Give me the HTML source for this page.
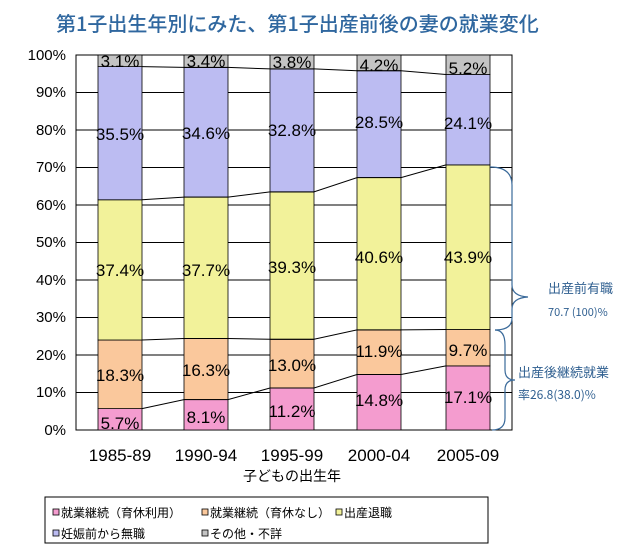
<!DOCTYPE html>
<html><head><meta charset="utf-8"><style>
body{margin:0;background:#fff;width:640px;height:545px;overflow:hidden}
svg{display:block;font-family:"Liberation Sans","Noto Sans CJK JP",sans-serif}
</style></head><body>
<svg width="640" height="545" viewBox="0 0 640 545" xmlns="http://www.w3.org/2000/svg">
<text x="56" y="31" font-size="20" fill="#2f679f" font-weight="500" font-family="'Noto Sans CJK JP',sans-serif">第1子出生年別にみた、第1子出産前後の妻の就業変化</text>
<g stroke="#000" stroke-width="1">
<line x1="76" y1="55" x2="512" y2="55"/><line x1="76" y1="92.5" x2="512" y2="92.5"/>
<line x1="76" y1="130" x2="512" y2="130"/><line x1="76" y1="167.5" x2="512" y2="167.5"/>
<line x1="76" y1="205" x2="512" y2="205"/><line x1="76" y1="242.5" x2="512" y2="242.5"/>
<line x1="76" y1="280" x2="512" y2="280"/><line x1="76" y1="317.5" x2="512" y2="317.5"/>
<line x1="76" y1="355" x2="512" y2="355"/><line x1="76" y1="392.5" x2="512" y2="392.5"/>
<rect x="76" y="55" width="436" height="375" fill="none"/>
</g>
<g font-size="15" text-anchor="end" fill="#000">
<text x="66" y="60">100%</text><text x="66" y="97">90%</text><text x="66" y="135">80%</text>
<text x="66" y="172">70%</text><text x="66" y="210">60%</text><text x="66" y="247">50%</text>
<text x="66" y="285">40%</text><text x="66" y="322">30%</text><text x="66" y="360">20%</text>
<text x="66" y="397">10%</text><text x="66" y="435">0%</text>
</g>
<g stroke="#000" stroke-width="0.8">
<rect x="98" y="408.6" width="44" height="21.4" fill="#f49ccf"/>
<rect x="98" y="340" width="44" height="68.6" fill="#fac89c"/>
<rect x="98" y="199.8" width="44" height="140.2" fill="#f2f29a"/>
<rect x="98" y="66.6" width="44" height="133.2" fill="#bcbcf2"/>
<rect x="98" y="55" width="44" height="11.6" fill="#c4c4c4"/>
<rect x="184" y="399.6" width="44" height="30.4" fill="#f49ccf"/>
<rect x="184" y="338.5" width="44" height="61.1" fill="#fac89c"/>
<rect x="184" y="197.1" width="44" height="141.4" fill="#f2f29a"/>
<rect x="184" y="67.4" width="44" height="129.7" fill="#bcbcf2"/>
<rect x="184" y="55" width="44" height="12.4" fill="#c4c4c4"/>
<rect x="270" y="388" width="44" height="42" fill="#f49ccf"/>
<rect x="270" y="339.3" width="44" height="48.7" fill="#fac89c"/>
<rect x="270" y="191.9" width="44" height="147.4" fill="#f2f29a"/>
<rect x="270" y="68.9" width="44" height="123" fill="#bcbcf2"/>
<rect x="270" y="55" width="44" height="13.9" fill="#c4c4c4"/>
<rect x="357" y="374.5" width="44" height="55.5" fill="#f49ccf"/>
<rect x="357" y="329.9" width="44" height="44.6" fill="#fac89c"/>
<rect x="357" y="177.6" width="44" height="152.3" fill="#f2f29a"/>
<rect x="357" y="70.7" width="44" height="106.9" fill="#bcbcf2"/>
<rect x="357" y="55" width="44" height="15.7" fill="#c4c4c4"/>
<rect x="446" y="365.9" width="44" height="64.1" fill="#f49ccf"/>
<rect x="446" y="329.5" width="44" height="36.4" fill="#fac89c"/>
<rect x="446" y="164.9" width="44" height="164.6" fill="#f2f29a"/>
<rect x="446" y="74.5" width="44" height="90.4" fill="#bcbcf2"/>
<rect x="446" y="55" width="44" height="19.5" fill="#c4c4c4"/>
</g>
<g stroke="#000" stroke-width="1" fill="none">
<polyline points="142,408.6 184,399.6 228,399.6 270,388 314,388 357,374.5 401,374.5 446,365.9"/>
<polyline points="142,340 184,338.5 228,338.5 270,339.3 314,339.3 357,329.9 401,329.9 446,329.5"/>
<polyline points="142,199.8 184,197.1 228,197.1 270,191.9 314,191.9 357,177.6 401,177.6 446,164.9"/>
<polyline points="142,66.6 184,67.4 228,67.4 270,68.9 314,68.9 357,70.7 401,70.7 446,74.5"/>
</g>
<g font-size="17" text-anchor="middle" fill="#000">
<text x="120" y="67">3.1%</text><text x="206" y="67">3.4%</text><text x="292" y="68">3.8%</text><text x="379" y="71">4.2%</text><text x="468" y="74">5.2%</text>
<text x="120" y="140">35.5%</text><text x="206" y="139">34.6%</text><text x="292" y="136">32.8%</text><text x="379" y="128">28.5%</text><text x="468" y="129">24.1%</text>
<text x="120" y="276">37.4%</text><text x="206" y="276">37.7%</text><text x="292" y="273">39.3%</text><text x="379" y="263">40.6%</text><text x="468" y="263">43.9%</text>
<text x="120" y="381">18.3%</text><text x="206" y="376">16.3%</text><text x="292" y="371">13.0%</text><text x="379" y="357">11.9%</text><text x="468" y="356">9.7%</text>
<text x="120" y="429">5.7%</text><text x="206" y="423">8.1%</text><text x="292" y="417">11.2%</text><text x="379" y="406">14.8%</text><text x="468" y="403">17.1%</text>
</g>
<g font-size="17" text-anchor="middle" fill="#000">
<text x="120" y="461">1985-89</text><text x="206" y="461">1990-94</text><text x="292" y="461">1995-99</text><text x="379" y="461">2000-04</text><text x="468" y="461">2005-09</text>
<text x="292" y="481" font-size="14" font-family="'Noto Sans CJK JP',sans-serif">子どもの出生年</text>
</g>
<g stroke="#3a6a9a" stroke-width="1.2" fill="none">
<path d="M490,167 Q512,167 512,185 L512,285 Q512,296 528,297 Q512,298 512,309 L512,318 Q512,330 495,330"/>
<path d="M495,330 Q505,330 505,345 L505,370 Q505,380 515,380 Q505,380 505,390 L505,418 Q505,430 492,430"/>
</g>
<g fill="#2f5f90" font-family="'Noto Sans CJK JP',sans-serif">
<text x="548" y="293" font-size="13">出産前有職</text>
<text x="548" y="316" font-size="11">70.7 (100)%</text>
<text x="518" y="377" font-size="13">出産後継続就業</text>
<text x="518" y="399" font-size="12">率26.8(38.0)%</text>
</g>
<rect x="45" y="497" width="443" height="46" fill="#fff" stroke="#000"/>
<g stroke="#000" stroke-width="0.8">
<rect x="53" y="509" width="6" height="6" fill="#f49ccf"/>
<rect x="202" y="509" width="6" height="6" fill="#fac89c"/>
<rect x="336" y="509" width="6" height="6" fill="#f2f29a"/>
<rect x="53" y="530" width="6" height="6" fill="#bcbcf2"/>
<rect x="202" y="530" width="6" height="6" fill="#c4c4c4"/>
</g>
<g font-size="12" fill="#000" font-family="'Noto Sans CJK JP',sans-serif">
<text x="61" y="517">就業継続（育休利用）</text>
<text x="210" y="517">就業継続（育休なし）</text>
<text x="344" y="517">出産退職</text>
<text x="61" y="538">妊娠前から無職</text>
<text x="210" y="538">その他・不詳</text>
</g>
</svg>
</body></html>
